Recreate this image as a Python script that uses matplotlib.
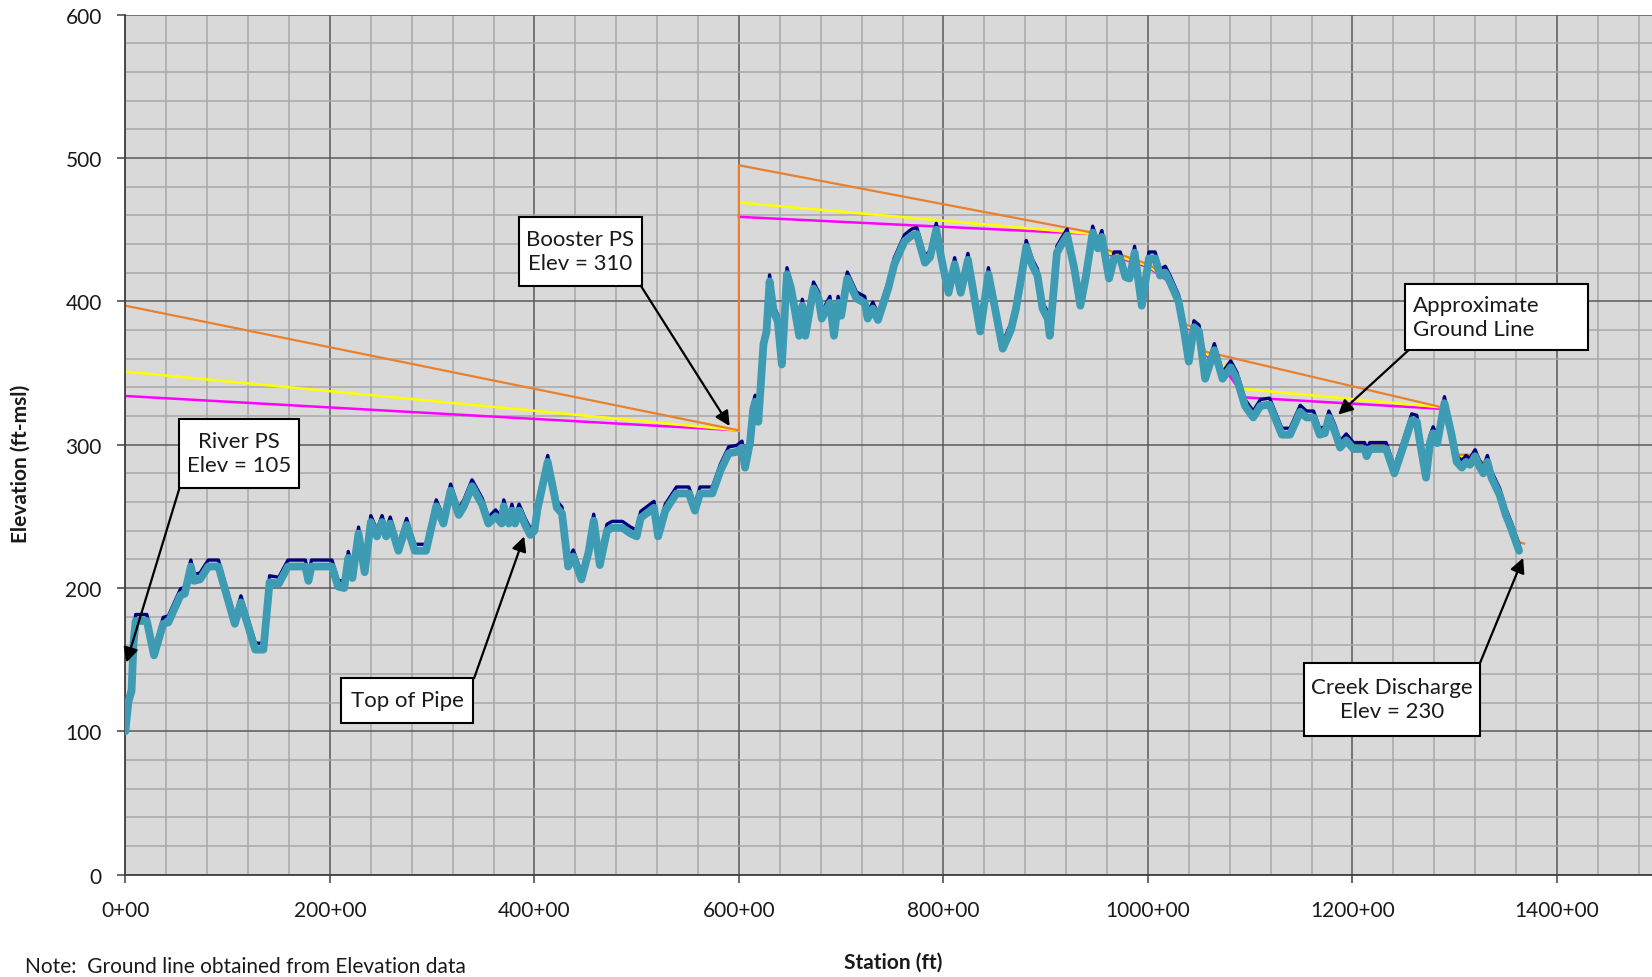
import matplotlib
matplotlib.use("Agg")
import matplotlib.pyplot as plt
from matplotlib.ticker import MultipleLocator, FuncFormatter
from matplotlib.patches import Rectangle

plt.rcParams['font.family'] = ['Lato', 'DejaVu Sans']

# Pipeline profile: station (ft/100) and top-of-pipe elevation (ft-msl)
station = [0, 3, 6, 8, 10, 21, 28, 37, 42, 47, 54, 58, 64, 67, 73, 81, 91, 101,
           107, 113, 119, 127, 135, 141, 150, 159, 176, 179, 182, 202, 208, 214,
           218, 222, 228, 234, 240, 246, 251, 255, 259, 267, 275, 283, 294, 304,
           311, 318, 326, 331, 339, 349, 355, 362, 368, 370, 375, 378, 381, 385,
           391, 396, 400, 403, 413, 422, 427, 433, 438, 446, 453, 458, 464, 471,
           476, 486, 494, 500, 504, 517, 521, 528, 539, 551, 557, 562, 574, 582,
           590, 598, 603, 606, 611, 614, 616, 619, 624, 627, 630, 634, 638, 642,
           647, 651, 659, 662, 665, 673, 678, 681, 689, 693, 697, 700, 706, 715,
           723, 726, 731, 736, 746, 752, 762, 769, 774, 782, 787, 793, 798, 805,
           811, 817, 824, 836, 844, 850, 858, 866, 871, 876, 881, 887, 892, 897,
           902, 904, 911, 915, 921, 928, 934, 939, 946, 951, 955, 962, 967, 973,
           978, 982, 987, 994, 1001, 1007, 1012, 1017, 1022, 1030, 1035, 1040,
           1045, 1050, 1056, 1065, 1073, 1081, 1087, 1095, 1103, 1110, 1119, 1131,
           1139, 1149, 1155, 1162, 1168, 1173, 1177, 1183, 1188, 1194, 1201, 1212,
           1214, 1217, 1233, 1241, 1250, 1258, 1263, 1266, 1272, 1276, 1279, 1283,
           1290, 1297, 1302, 1307, 1311, 1315, 1320, 1324, 1328, 1332, 1336, 1344,
           1350, 1355, 1363]
top_of_pipe = [100, 121, 128, 162, 177, 177, 153, 175, 176, 184, 195, 196, 215, 205,
               206, 215, 215, 190, 175, 190, 176, 157, 157, 204, 203, 215, 215, 205,
               215, 215, 201, 200, 221, 207, 238, 211, 246, 236, 246, 236, 245, 226,
               244, 226, 226, 257, 245, 268, 251, 257, 271, 258, 245, 250, 245, 257,
               245, 254, 245, 254, 244, 237, 240, 255, 288, 256, 252, 215, 222, 206,
               225, 247, 216, 240, 242, 242, 238, 236, 249, 256, 236, 254, 266, 266,
               254, 266, 266, 282, 294, 295, 298, 284, 302, 325, 330, 316, 370, 379,
               414, 393, 386, 356, 419, 409, 376, 397, 376, 409, 402, 388, 399, 376,
               399, 390, 416, 402, 399, 388, 395, 387, 409, 426, 442, 446, 447, 427,
               431, 450, 430, 406, 426, 406, 429, 379, 419, 397, 367, 380, 395, 416,
               438, 425, 418, 395, 388, 376, 434, 439, 446, 423, 397, 416, 448, 437,
               445, 416, 430, 430, 417, 416, 434, 397, 430, 430, 418, 420, 413, 400,
               381, 358, 382, 379, 346, 366, 346, 354, 346, 327, 319, 327, 328, 307,
               307, 323, 319, 319, 307, 308, 319, 309, 298, 303, 297, 297, 292, 297,
               297, 280, 299, 317, 316, 302, 277, 302, 308, 301, 329, 307, 288, 284,
               288, 286, 292, 285, 280, 288, 277, 265, 251, 242, 226]
cover_ft = 4.5
ground = [e + cover_ft for e in top_of_pipe]

# Hydraulic grade lines (suction leg to the booster, discharge leg beyond it)
hgl_orange_sta = [0, 600, 600, 946, 960, 1000, 1022, 1030, 1036, 1050, 1056, 1288,
                  1302, 1320, 1336, 1344, 1350, 1355, 1363, 1368]
hgl_orange_elev = [397, 310, 495, 448, 436, 426, 416, 403, 384, 381, 365, 326,
                   293, 293, 281, 268, 255, 246, 232, 231]

hgl_yellow_suction_sta = [0, 600]
hgl_yellow_suction_elev = [351, 310]
hgl_yellow_sta = [600, 946, 960, 1000, 1022, 1030, 1036, 1050, 1056, 1080, 1092,
                  1288, 1302, 1320, 1336, 1344, 1350, 1355, 1363]
hgl_yellow_elev = [469, 447, 434, 425, 414, 401, 383, 379, 364, 352, 339,
                   326, 292, 292, 280, 267, 254, 245, 230]

hgl_magenta_suction_sta = [0, 600]
hgl_magenta_suction_elev = [334, 310]
hgl_magenta_sta = [600, 946, 960, 1000, 1022, 1030, 1036, 1050, 1056, 1080, 1095,
                   1288, 1302, 1320, 1336, 1344, 1350, 1355, 1363]
hgl_magenta_elev = [459, 447, 433, 424, 413, 400, 382, 378, 363, 348, 333,
                    325, 291, 291, 279, 266, 253, 244, 229]

W, H = 1652, 978
fig = plt.figure(figsize=(W / 100, H / 100), dpi=100)
x0_px, y0_px, y600_px = 125.4, 875.6, 15.8
ax = fig.add_axes([x0_px / W, (H - y0_px) / H, 1 - x0_px / W, (y0_px - y600_px) / H])
ax.set_facecolor('#D9D9D9')
ax.set_xlim(0, (W - x0_px) / 1.0225)
ax.set_ylim(0, 600)

ax.xaxis.set_major_locator(MultipleLocator(200))
ax.xaxis.set_minor_locator(MultipleLocator(40))
ax.yaxis.set_major_locator(MultipleLocator(100))
ax.yaxis.set_minor_locator(MultipleLocator(20))
ax.xaxis.set_major_formatter(FuncFormatter(lambda v, p: f"{int(v)}+00"))
ax.yaxis.set_major_formatter(FuncFormatter(lambda v, p: f"{int(v)}"))

ax.set_axisbelow(True)
ax.grid(which='minor', color='#A8A8A8', lw=1.1)
ax.grid(which='major', color='#5A5A5A', lw=1.1)
for sp in ['top', 'right']:
    ax.spines[sp].set_visible(False)
for sp in ['left', 'bottom']:
    ax.spines[sp].set_color('#404040')
    ax.spines[sp].set_linewidth(1.3)
ax.tick_params(which='major', direction='out', length=6, width=1.1,
               color='#404040', labelsize=15, labelcolor='#1a1a1a')
ax.tick_params(axis='y', which='major', pad=11)
ax.tick_params(axis='x', which='major', pad=12)
ax.tick_params(which='minor', length=0)

# hydraulic grade lines
ax.plot(hgl_magenta_suction_sta, hgl_magenta_suction_elev, color='#FF00FF', lw=1.8, zorder=2)
ax.plot(hgl_magenta_sta, hgl_magenta_elev, color='#FF00FF', lw=1.8, zorder=2)
ax.plot(hgl_yellow_suction_sta, hgl_yellow_suction_elev, color='#FFFF00', lw=1.8, zorder=2.1)
ax.plot(hgl_yellow_sta, hgl_yellow_elev, color='#FFFF00', lw=1.8, zorder=2.1)
ax.plot(hgl_orange_sta, hgl_orange_elev, color='#E8802E', lw=1.6, zorder=2.2)

# ground line and top of pipe
ax.plot(station, ground, color='#000080', lw=2.4, zorder=3, solid_joinstyle='round')
ax.plot(station, top_of_pipe, color='#3D9BB3', lw=5.6, zorder=4,
        solid_joinstyle='round', solid_capstyle='round')

# callout boxes
def callout(x0, y0, x1, y1, lines, tx, ha='center'):
    ax.add_patch(Rectangle((x0, y0), x1 - x0, y1 - y0, facecolor='white',
                           edgecolor='black', lw=1.5, zorder=6))
    ax.text(tx, (y0 + y1) / 2, lines, ha=ha, va='center', fontsize=16,
            color='#1a1a1a', zorder=7, linespacing=1.25)

def arrow(tail, tip):
    ax.annotate('', xy=tip, xytext=tail, zorder=8,
                arrowprops=dict(arrowstyle='-|>', color='black', lw=1.6,
                                mutation_scale=22, shrinkA=0, shrinkB=0))

callout(52, 270, 170, 318, "River PS\nElev = 105", 111)
arrow((53, 270), (1, 148))
callout(385, 411, 505, 459, "Booster PS\nElev = 310", 445)
arrow((504, 411), (591, 313))
callout(211, 106, 340, 137, "Top of Pipe", 275.5)
arrow((341, 137), (390, 236))
callout(1251, 366, 1430, 412, "Approximate\nGround Line", 1259, ha='left')
arrow((1255, 366), (1186, 321))
callout(1153, 97, 1325, 148, "Creek Discharge\nElev = 230", 1239)
arrow((1325, 148), (1367, 221))

fig.text(21 / W, (H - 464) / H, 'Elevation (ft-msl)', rotation=90, ha='center',
         va='center', fontsize=15, fontweight='bold', color='#1a1a1a')
fig.text(893 / W, (H - 963) / H, 'Station (ft)', ha='center', va='center',
         fontsize=15, fontweight='bold', color='#1a1a1a')
fig.text(25 / W, 5 / H, 'Note:  Ground line obtained from Elevation data',
         ha='left', va='baseline', fontsize=15, color='#1a1a1a')

fig.savefig('out.png', dpi=100)
